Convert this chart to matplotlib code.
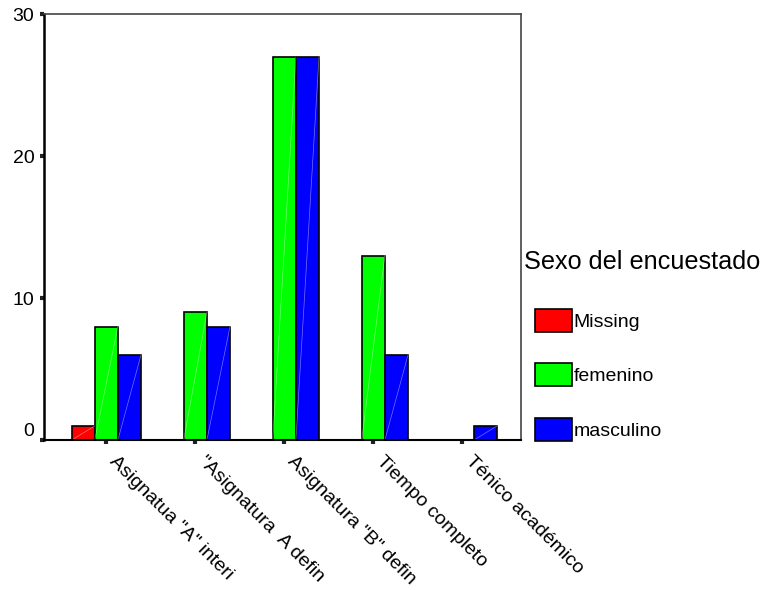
import numpy as np
import matplotlib
matplotlib.use('Agg')
import matplotlib.pyplot as plt

plt.rcParams['font.family'] = ['Liberation Sans', 'DejaVu Sans']

# categories and counts per sex
categories = ['Asignatua "A" interi', '"Asignatura  A defin', 'Asignatura "B" defin',
              'Tiempo completo', 'Ténico académico']
series_names = ['Missing', 'femenino', 'masculino']
missing = [1, 0, 0, 0, 0]
femenino = [8, 9, 27, 13, 0]
masculino = [6, 8, 27, 6, 1]
colors = ['#ff0000', '#00ff00', '#0000ff']
y_ticks = [0, 10, 20, 30]

fig = plt.figure(figsize=(7.64, 5.90), dpi=100)
ax = fig.add_axes([0.0576, 0.254, 0.6244, 0.722])

x = np.arange(len(categories))
w = 0.26
for i, (vals, name, c) in enumerate(zip([missing, femenino, masculino], series_names, colors)):
    bars = ax.bar(x + (i - 1) * w, vals, w, color=c, edgecolor='black', linewidth=1.2, label=name)
    # faint diagonal highlight inside each bar
    for p in bars:
        h = p.get_height()
        if h > 0:
            ax.plot([p.get_x(), p.get_x() + p.get_width()], [0, h], color='white', lw=0.5, alpha=0.45)

ax.set_xlim(-0.7, 4.66)
ax.set_ylim(0, 30)
ax.set_yticks(y_ticks)
ax.set_xticks(x)
ax.set_xticklabels(categories, rotation=-45, ha='left', va='bottom', rotation_mode='anchor', fontsize=14)
ax.tick_params(axis='y', labelsize=14, length=3, width=3, direction='out', pad=4, color='#222222')
ax.tick_params(axis='x', length=3, width=3, direction='out', pad=15, color='#222222')
ax.get_yticklabels()[0].set_va('bottom')

ax.spines['left'].set_linewidth(1.8)
ax.spines['bottom'].set_linewidth(1.5)
for s in ['top', 'right']:
    ax.spines[s].set_linewidth(1.2)
    ax.spines[s].set_color('#444444')

fig.text(0.686, 0.556, 'Sexo del encuestado', fontsize=18.2, ha='left', va='center')
leg = ax.legend(loc='upper left', bbox_to_anchor=(0.700, 0.4763), bbox_transform=fig.transFigure,
                frameon=False, fontsize=14, handlelength=1.9, handleheight=1.44,
                handletextpad=0.1, labelspacing=1.62, borderpad=0, borderaxespad=0)
for h in leg.legend_handles:
    h.set_linewidth(1.2)

fig.savefig('out.png', dpi=100)
